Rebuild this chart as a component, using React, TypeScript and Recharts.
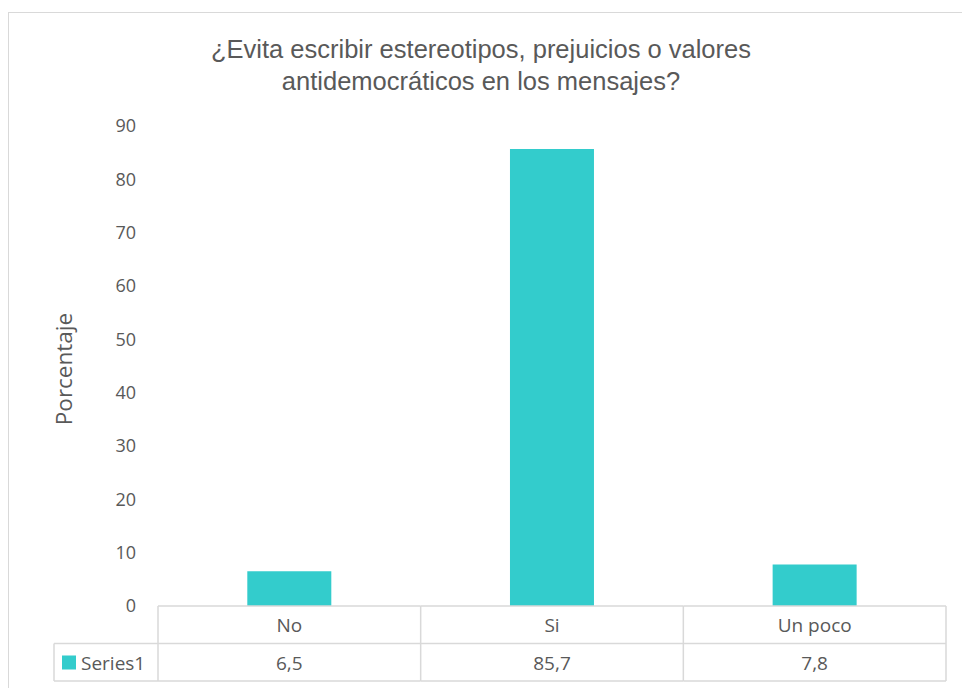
import React from "react";
import { BarChart, Bar, XAxis, YAxis } from "recharts";

const categories = ["No", "Si", "Un poco"];
const values = [6.5, 85.7, 7.8];
const yTicks = [0, 10, 20, 30, 40, 50, 60, 70, 80, 90];
const seriesName = "Series1";
const title = [
  "¿Evita escribir estereotipos, prejuicios o valores",
  "antidemocráticos en los mensajes?",
];
const yLabel = "Porcentaje";

const data = categories.map((name, i) => ({ name, value: values[i] }));

// medidas del lienzo (coordenadas de página, el contenedor es fijo)
const W = 962;
const H = 688;
const yAxisW = 158;
const xAxisH = 82;
const marginRight = 16;
const plotBottom = H - xAxisH;
const band = (W - marginRight - yAxisW) / categories.length;
const rowH = 37.5;

const GREY = "#595959";
const LINE = "#d9d9d9";
const TEAL = "#33CCCC";
const FONT = "'Open Sans', sans-serif";
const TITLE_FONT = "'Liberation Sans', Arial, sans-serif";

const fmt = (v: number) => v.toFixed(1).replace(".", ",");

// la tabla de datos se dibuja como ticks del eje X
function TableTick(props: any) {
  const { x, payload, index } = props;
  const l = x - band / 2;
  const r = x + band / 2;
  const y0 = plotBottom;
  const y1 = plotBottom + rowH;
  const y2 = plotBottom + rowH * 2;
  return (
    <g>
      <line x1={l} x2={r} y1={y0} y2={y0} stroke={LINE} strokeWidth={1.5} />
      <line x1={l} x2={r} y1={y1} y2={y1} stroke={LINE} strokeWidth={1.5} />
      <line x1={l} x2={r} y1={y2} y2={y2} stroke={LINE} strokeWidth={1.5} />
      <line x1={r} x2={r} y1={y0} y2={y2} stroke={LINE} strokeWidth={1.5} />
      {index === 0 && (
        <g>
          <line x1={l} x2={l} y1={y0} y2={y2} stroke={LINE} strokeWidth={1.5} />
          <line x1={54} x2={l} y1={y1} y2={y1} stroke={LINE} strokeWidth={1.5} />
          <line x1={54} x2={l} y1={y2} y2={y2} stroke={LINE} strokeWidth={1.5} />
          <line x1={54} x2={54} y1={y1} y2={y2} stroke={LINE} strokeWidth={1.5} />
          <rect x={62} y={y1 + 12} width={14} height={14} fill={TEAL} />
          <text x={81} y={y2 - 11} fill={GREY} fontSize={19} fontFamily={FONT}>
            {seriesName}
          </text>
        </g>
      )}
      <text x={x} y={y0 + 26} textAnchor="middle" fill={GREY} fontSize={19} fontFamily={FONT}>
        {payload.value}
      </text>
      <text x={x} y={y2 - 11} textAnchor="middle" fill={GREY} fontSize={19} fontFamily={FONT}>
        {fmt(values[index])}
      </text>
    </g>
  );
}

export default function App() {
  return (
    <div
      style={{
        position: "fixed",
        left: 0,
        top: 0,
        width: W,
        height: H,
        overflow: "hidden",
        background: "#fff",
      }}
    >
      <div
        style={{
          position: "absolute",
          left: 8,
          top: 12,
          width: 1000,
          height: 1000,
          border: `1px solid ${LINE}`,
        }}
      />
      <div style={{ position: "absolute", left: 0, top: 0 }}>
        <BarChart
          width={W}
          height={H}
          data={data}
          margin={{ top: 126, right: marginRight, bottom: 0, left: 0 }}
          barCategoryGap="34%"
        >
          <text x={481} y={58} textAnchor="middle" fill={GREY} fontSize={25.5} fontFamily={TITLE_FONT}>
            {title[0]}
          </text>
          <text x={481} y={90} textAnchor="middle" fill={GREY} fontSize={25.5} fontFamily={TITLE_FONT}>
            {title[1]}
          </text>
          <text
            x={72}
            y={369}
            textAnchor="middle"
            transform="rotate(-90 72 369)"
            fill={GREY}
            fontSize={22.5}
            fontFamily={FONT}
          >
            {yLabel}
          </text>
          <XAxis
            dataKey="name"
            height={xAxisH}
            axisLine={false}
            tickLine={false}
            interval={0}
            tick={<TableTick />}
          />
          <YAxis
            width={yAxisW}
            domain={[0, 90]}
            ticks={yTicks}
            axisLine={false}
            tickLine={false}
            tickMargin={16}
            tick={{ fill: GREY, fontSize: 18, fontFamily: FONT }}
          />
          <Bar dataKey="value" fill={TEAL} isAnimationActive={false} />
        </BarChart>
      </div>
    </div>
  );
}
